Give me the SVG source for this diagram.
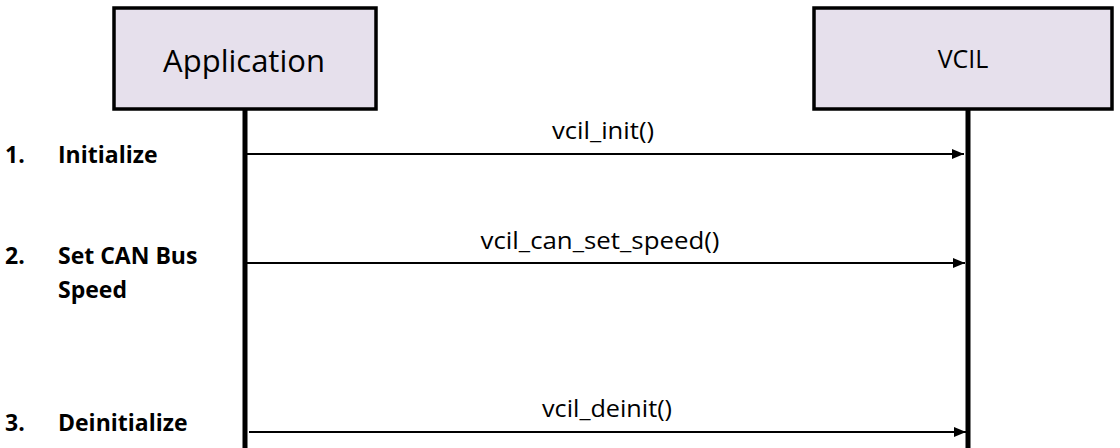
<svg xmlns="http://www.w3.org/2000/svg" width="1120" height="448" viewBox="0 0 1120 448">
<style>
.box{fill:#E6E0EC;stroke:#000;stroke-width:3.5}
.life{stroke:#000;stroke-width:5}
.msg{stroke:#000;stroke-width:2;fill:none;marker-end:url(#ah)}
.t{font-family:"Open Sans","Liberation Sans",sans-serif;fill:#000}
.m{font-family:"Open Sans","Liberation Sans",sans-serif;font-size:24px;fill:#000}
.b{font-family:"Open Sans","Liberation Sans",sans-serif;font-weight:bold;font-size:23px;fill:#000}
</style>
<defs>
<marker id="ah" markerWidth="12" markerHeight="10" refX="12" refY="5" orient="auto" markerUnits="userSpaceOnUse">
<path d="M0,0 L12,5 L0,10 Z" fill="#000"/>
</marker>
</defs>
<rect width="1120" height="448" fill="#fff"/>
<g id="application">
<rect class="box" x="114" y="8" width="262" height="101"/>
<text class="t" x="244" y="72" font-size="31" text-anchor="middle">Application</text>
<line class="life" x1="245" y1="110" x2="245" y2="448"/>
</g>
<g id="vcil">
<rect class="box" x="814" y="8" width="298" height="101"/>
<text class="t" x="963" y="68" font-size="25" text-anchor="middle">VCIL</text>
<line class="life" x1="968" y1="110" x2="968" y2="448"/>
</g>
<g id="connectors">
<line class="msg" x1="247" y1="154" x2="964" y2="154"/>
<line class="msg" x1="247" y1="263" x2="965" y2="263"/>
<line class="msg" x1="249" y1="432" x2="966" y2="432"/>
<text class="m" x="603" y="139" text-anchor="middle" textLength="102" lengthAdjust="spacingAndGlyphs">vcil_init()</text>
<text class="m" x="600" y="249" text-anchor="middle" textLength="239" lengthAdjust="spacingAndGlyphs">vcil_can_set_speed()</text>
<text class="m" x="607" y="417" text-anchor="middle" textLength="130" lengthAdjust="spacingAndGlyphs">vcil_deinit()</text>
</g>
<g id="steps">
<text class="b" x="5" y="163">1.</text>
<text class="b" x="58" y="163">Initialize</text>
<text class="b" x="5" y="264">2.</text>
<text class="b" x="58" y="264">Set CAN Bus</text>
<text class="b" x="58" y="298">Speed</text>
<text class="b" x="5" y="431">3.</text>
<text class="b" x="58" y="431">Deinitialize</text>
</g>
</svg>
